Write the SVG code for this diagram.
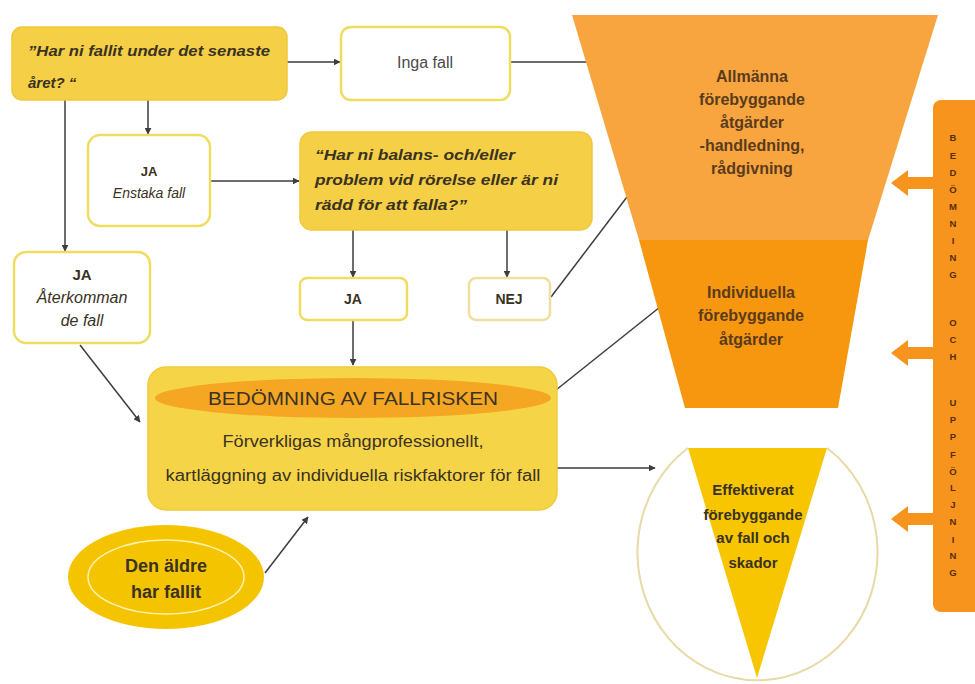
<svg xmlns="http://www.w3.org/2000/svg" width="975" height="684" viewBox="0 0 975 684">
<defs>
<marker id="ah" viewBox="0 0 10 10" refX="9" refY="5" markerWidth="7" markerHeight="7" orient="auto" markerUnits="userSpaceOnUse">
<path d="M0,0 L10,5 L0,10 z" fill="#3d3d3d"/>
</marker>
<style>
text{font-family:"Liberation Sans",Arial,sans-serif;fill:#3a3222}
.yb{fill:#F5CF45;stroke:#EFC73A;stroke-width:1.5}
.wb{fill:#ffffff;stroke:#EEDD60;stroke-width:2.5}
.q{font-size:15px;font-style:italic;font-weight:bold}
.c{text-anchor:middle}
.b{font-weight:bold}
.ln{stroke:#3d3d3d;stroke-width:1.5;fill:none}
.fun{font-size:16px;font-weight:bold;fill:#5a3b1c;text-anchor:middle}
.bar{font-size:9.5px;font-weight:bold;fill:#5a2e0a;text-anchor:middle}
.blk{fill:#F7941D}
</style>
</defs>
<rect width="975" height="684" fill="#ffffff"/>

<g id="connectors">
<line class="ln" x1="287" y1="62" x2="340" y2="62" marker-end="url(#ah)"/>
<line class="ln" x1="510" y1="62" x2="587" y2="62"/>
<line class="ln" x1="148" y1="100" x2="148" y2="134" marker-end="url(#ah)"/>
<line class="ln" x1="65" y1="100" x2="65" y2="251" marker-end="url(#ah)"/>
<line class="ln" x1="210" y1="181" x2="299" y2="181" marker-end="url(#ah)"/>
<line class="ln" x1="353" y1="230" x2="353" y2="277" marker-end="url(#ah)"/>
<line class="ln" x1="507" y1="230" x2="507" y2="277" marker-end="url(#ah)"/>
<line class="ln" x1="551" y1="297" x2="630" y2="193"/>
<line class="ln" x1="353" y1="320" x2="353" y2="365" marker-end="url(#ah)"/>
<line class="ln" x1="80" y1="345" x2="140" y2="422" marker-end="url(#ah)"/>
<line class="ln" x1="556" y1="390" x2="660" y2="307"/>
<line class="ln" x1="557" y1="468" x2="655" y2="468" marker-end="url(#ah)"/>
<line class="ln" x1="265" y1="573" x2="308" y2="517" marker-end="url(#ah)"/>
</g>

<g id="q1">
<rect class="yb" x="12" y="27" width="275" height="73" rx="10"/>
<text class="q" x="28" y="56" font-size="16" textLength="242" lengthAdjust="spacingAndGlyphs">”Har ni fallit under det senaste</text>
<text class="q" x="28" y="88" font-size="16">året? “</text>
</g>

<g id="inga-fall">
<rect class="wb" x="341" y="27" width="169" height="73" rx="10"/>
<text class="c" x="425" y="68" font-size="16" fill="#4a4a4a" style="fill:#4a4a4a">Inga fall</text>
</g>

<g id="ja-enstaka">
<rect class="wb" x="88" y="135" width="122" height="91" rx="12"/>
<text class="c b" x="149" y="176" font-size="13">JA</text>
<text class="c" x="149" y="198" font-size="14" font-style="italic">Enstaka fall</text>
</g>

<g id="ja-aterkommande">
<rect class="wb" x="14" y="252" width="136" height="91" rx="12"/>
<text class="c b" x="82" y="280" font-size="15">JA</text>
<text class="c" x="82" y="303" font-size="16" font-style="italic">Återkomman</text>
<text class="c" x="82" y="326" font-size="16" font-style="italic">de fall</text>
</g>

<g id="q2">
<rect class="yb" x="300" y="132" width="292" height="98" rx="12"/>
<text class="q" x="315" y="160" textLength="200" lengthAdjust="spacingAndGlyphs">“Har ni balans- och/eller</text>
<text class="q" x="315" y="185" textLength="243" lengthAdjust="spacingAndGlyphs">problem vid rörelse  eller är ni</text>
<text class="q" x="315" y="210" textLength="152" lengthAdjust="spacingAndGlyphs">rädd för att falla?”</text>
</g>

<g id="ja">
<rect class="wb" x="300" y="278" width="107" height="42" rx="7"/>
<text class="c b" x="353" y="304" font-size="14">JA</text>
</g>

<g id="nej">
<rect x="469" y="278" width="81" height="42" rx="7" fill="#ffffff" stroke="#EEDFA0" stroke-width="2.5"/>
<text class="c b" x="509" y="304" font-size="14">NEJ</text>
</g>

<g id="funnel-upper">
<polygon points="572,15 938,15 868,240 639,240" fill="#F8A540"/>
<text class="fun" x="752" y="82">Allmänna</text>
<text class="fun" x="752" y="105">förebyggande</text>
<text class="fun" x="752" y="128">åtgärder</text>
<text class="fun" x="752" y="151">-handledning,</text>
<text class="fun" x="752" y="174">rådgivning</text>
</g>

<g id="funnel-lower">
<polygon points="639,240 868,240 838,408 685,408" fill="#F7960F"/>
<text class="fun" x="751" y="298" style="font-weight:600">Individuella</text>
<text class="fun" x="751" y="321" style="font-weight:600">förebyggande</text>
<text class="fun" x="751" y="345" style="font-weight:600">åtgärder</text>
</g>

<g id="bedomning">
<rect x="148" y="367" width="409" height="143" rx="18" fill="#F5D547" stroke="#EFCB38" stroke-width="1.5"/>
<ellipse cx="353" cy="398" rx="198" ry="20" fill="#F5A623"/>
<text class="c" x="353" y="405" font-size="19" textLength="290" lengthAdjust="spacingAndGlyphs">BEDÖMNING AV FALLRISKEN</text>
<text class="c" x="353" y="447" font-size="16" textLength="261" lengthAdjust="spacingAndGlyphs">Förverkligas mångprofessionellt,</text>
<text class="c" x="353" y="481" font-size="16" textLength="375" lengthAdjust="spacingAndGlyphs">kartläggning av individuella riskfaktorer för fall</text>
</g>

<g id="den-aldre">
<ellipse cx="166" cy="577" rx="98" ry="52" fill="#F5C400"/>
<ellipse cx="166" cy="577" rx="78" ry="37" fill="none" stroke="#FFF3B0" stroke-width="1.5"/>
<text class="c b" x="166" y="572" font-size="18">Den äldre</text>
<text class="c b" x="166" y="598" font-size="18">har fallit</text>
</g>

<g id="effektiverat">
<path d="M688,448 A120,128 0 1,0 827,448" fill="none" stroke="#E9D9A6" stroke-width="2"/>
<polygon points="688,448 827,448 757,678" fill="#F7C600"/>
<text class="c b" x="753" y="495" font-size="15">Effektiverat</text>
<text class="c b" x="753" y="520" font-size="15">förebyggande</text>
<text class="c b" x="753" y="543" font-size="15">av fall och</text>
<text class="c b" x="753" y="568" font-size="15">skador</text>
</g>

<g id="uppfoljning-bar">
<rect class="blk" x="933" y="100" width="60" height="512" rx="8"/>
<polygon class="blk" points="891,183 908,170 908,177 934,177 934,189 908,189 908,196"/>
<polygon class="blk" points="891,353 908,340 908,347 934,347 934,359 908,359 908,366"/>
<polygon class="blk" points="891,519 908,506 908,513 934,513 934,525 908,525 908,532"/>
<text class="bar" x="953" y="141">B</text>
<text class="bar" x="953" y="159">E</text>
<text class="bar" x="953" y="176">D</text>
<text class="bar" x="953" y="193">Ö</text>
<text class="bar" x="953" y="210">M</text>
<text class="bar" x="953" y="227">N</text>
<text class="bar" x="953" y="244">I</text>
<text class="bar" x="953" y="261">N</text>
<text class="bar" x="953" y="278">G</text>
<text class="bar" x="953" y="326">O</text>
<text class="bar" x="953" y="343">C</text>
<text class="bar" x="953" y="360">H</text>
<text class="bar" x="953" y="406">U</text>
<text class="bar" x="953" y="423">P</text>
<text class="bar" x="953" y="440">P</text>
<text class="bar" x="953" y="458">F</text>
<text class="bar" x="953" y="475">Ö</text>
<text class="bar" x="953" y="491">L</text>
<text class="bar" x="953" y="508">J</text>
<text class="bar" x="953" y="525">N</text>
<text class="bar" x="953" y="543">I</text>
<text class="bar" x="953" y="559">N</text>
<text class="bar" x="953" y="576">G</text>
</g>
</svg>
